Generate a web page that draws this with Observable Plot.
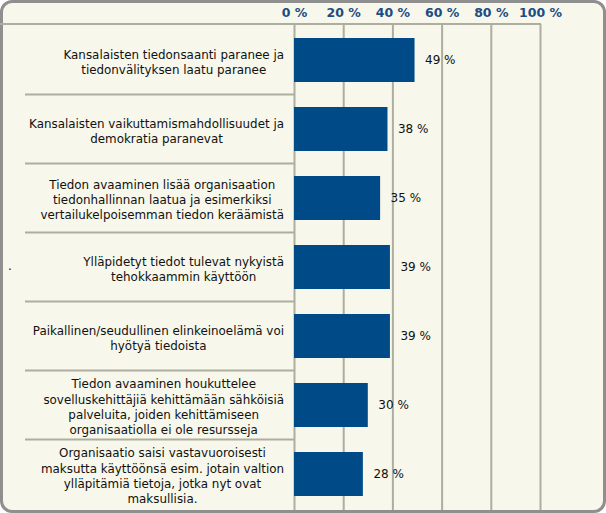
<!DOCTYPE html>
<html><head><meta charset="utf-8">
<script src="https://cdn.jsdelivr.net/npm/d3@7"></script>
<script src="https://cdn.jsdelivr.net/npm/@observablehq/plot@0.6"></script>
<style>
body{margin:0;background:#fff;}
#wrap{position:relative;width:606px;height:513px;}
#bg{position:absolute;left:0;top:0;width:606px;height:513px;box-sizing:border-box;border:3px solid #8f8f8f;border-radius:12px;background:#f7f7eb;}
#chart{position:absolute;left:0;top:0;}
#chart svg{overflow:visible;}
</style></head><body>
<div id="wrap"><div id="bg"></div><div id="chart"></div></div>
<script>
const categories = [
  "Kansalaisten tiedonsaanti paranee ja\ntiedonvälityksen laatu paranee",
  "Kansalaisten vaikuttamismahdollisuudet ja\ndemokratia paranevat",
  "Tiedon avaaminen lisää organisaation\ntiedonhallinnan laatua ja esimerkiksi\nvertailukelpoisemman tiedon keräämistä",
  "Ylläpidetyt tiedot tulevat nykyistä\ntehokkaammin käyttöön",
  "Paikallinen/seudullinen elinkeinoelämä voi\nhyötyä tiedoista",
  "Tiedon avaaminen houkuttelee\nsovelluskehittäjiä kehittämään sähköisiä\npalveluita, joiden kehittämiseen\norganisaatiolla ei ole resursseja",
  "Organisaatio saisi vastavuoroisesti\nmaksutta käyttöönsä esim. jotain valtion\nylläpitämiä tietoja, jotka nyt ovat\nmaksullisia."
];
const values = [49, 38, 35, 39, 39, 30, 28];
const xTicks = [0, 20, 40, 60, 80, 100];

const data = categories.map((c, i) => ({category: c, value: values[i]}));
const labelFamily = "'DejaVu Sans', Verdana, sans-serif";
const labelSize = 11.9;
const lineHeight = 15.3;
const gridColor = "#adada0";

const plot = Plot.plot({
  width: 606, height: 513,
  marginTop: 24, marginBottom: 3, marginLeft: 294, marginRight: 66,
  style: {background: "transparent", fontFamily: labelFamily, overflow: "visible"},
  x: {domain: [0, 100], axis: null},
  y: {domain: categories, paddingInner: 0.365, paddingOuter: 0.1825, axis: null},
  marks: [
    Plot.ruleX(xTicks, {stroke: gridColor, strokeWidth: 2}),
    Plot.barX(data, {x: "value", y: "category", fill: "#004b87"}),
    Plot.text(data, {x: "value", y: "category", text: d => d.value + " %", textAnchor: "start", dx: 10, fontSize: 12, fill: "#111"}),
    Plot.axisX(xTicks, {anchor: "top", label: null, tickSize: 0, tickPadding: 8, tickFormat: d => d + " %", fontWeight: "bold", fontSize: 12.5, fill: "#1b4c85", fontFamily: "'DejaVu Sans', sans-serif"})
  ]
});
document.getElementById("chart").appendChild(plot);

const svg = d3.select(plot);
const y = plot.scale("y");
const x = plot.scale("x");
const gap = y.step - y.bandwidth;
const g = svg.append("g");
// top axis line
g.append("line").attr("x1", 0).attr("x2", x.apply(100) + 1)
  .attr("y1", y.range[0]).attr("y2", y.range[0])
  .attr("stroke", gridColor).attr("stroke-width", 2);
// separators between category rows
categories.slice(1).forEach(c => {
  const yy = y.apply(c) - gap / 2;
  g.append("line").attr("x1", 25).attr("x2", x.apply(0)).attr("y1", yy).attr("y2", yy)
    .attr("stroke", gridColor).attr("stroke-width", 2);
});
// category labels: lines centered within a right-aligned block
const ctx = document.createElement("canvas").getContext("2d");
ctx.font = `${labelSize}px ${labelFamily}`;
const rightEdge = 284;
categories.forEach(c => {
  const lines = c.split("\n");
  const w = d3.max(lines, l => ctx.measureText(l).width);
  const cx = rightEdge - w / 2;
  const cy = y.apply(c) + y.bandwidth / 2 + 2;
  const t = g.append("text").attr("text-anchor", "middle")
    .attr("font-family", labelFamily).attr("font-size", labelSize).attr("fill", "#111");
  lines.forEach((l, i) => {
    t.append("tspan").attr("x", cx)
      .attr("y", cy + (i - (lines.length - 1) / 2) * lineHeight)
      .attr("dy", "0.35em").text(l);
  });
});
g.append("text").attr("x", 10).attr("y", 270).attr("font-size", 12).attr("fill", "#111").text(".");
</script>
</body></html>
